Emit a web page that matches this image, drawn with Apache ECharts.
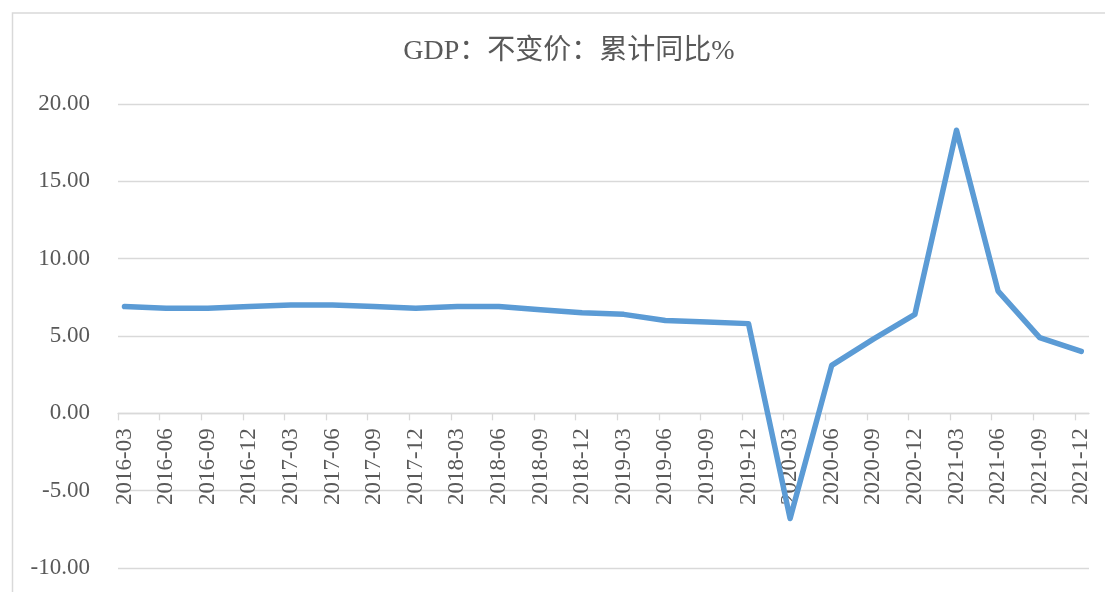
<!DOCTYPE html>
<html>
<head>
<meta charset="utf-8">
<script src="https://cdn.jsdelivr.net/npm/echarts@6/dist/echarts.min.js"></script>
<style>
html,body{margin:0;padding:0;background:#fff;}
#chart{width:1105px;height:592px;}
</style>
</head>
<body>
<div id="chart"></div>
<script>
const titleText = 'GDP：不变价：累计同比%';
const categories = ['2016-03','2016-06','2016-09','2016-12','2017-03','2017-06','2017-09','2017-12',
  '2018-03','2018-06','2018-09','2018-12','2019-03','2019-06','2019-09','2019-12',
  '2020-03','2020-06','2020-09','2020-12','2021-03','2021-06','2021-09','2021-12'];
const gdpValues = [6.9,6.8,6.8,6.9,7.0,7.0,6.9,6.8,
  6.9,6.9,6.7,6.5,6.4,6.0,5.9,5.8,
  -6.8,3.1,4.8,6.4,18.3,7.9,4.9,4.0];
const yMin = -10, yMax = 20, yStep = 5;

const idx = categories.map((c, i) => i);
const tickOffset = -0.156;
const gridTop = 104, gridBottom = 24, chartH = 592;
const plotH = chartH - gridTop - gridBottom;
const zeroOffset = -plotH * (0 - yMin) / (yMax - yMin);

const chart = echarts.init(document.getElementById('chart'), null, {renderer: 'canvas'});
chart.setOption({
  backgroundColor: '#ffffff',
  animation: false,
  graphic: [{
    type: 'rect',
    shape: {x: 12.5, y: 13, width: 1200, height: 700},
    style: {fill: 'none', stroke: '#d9d9d9', lineWidth: 1.5},
    silent: true
  }],
  title: {
    text: titleText,
    left: 564,
    textAlign: 'center',
    top: 33,
    textStyle: {
      fontFamily: "'Liberation Serif', 'Noto Sans CJK SC', serif",
      fontSize: 28,
      fontWeight: 'normal',
      color: '#595959'
    }
  },
  grid: {left: 118, right: 16, top: gridTop, bottom: gridBottom, containLabel: false, outerBoundsMode: 'none'},
  xAxis: {
    type: 'value',
    min: tickOffset,
    max: 23.185,
    offset: zeroOffset,
    axisLine: {onZero: false, lineStyle: {color: '#d9d9d9', width: 1.3}},
    axisTick: {show: true, length: 7, customValues: idx.map(i => i + tickOffset), lineStyle: {color: '#d9d9d9', width: 1.3}},
    axisLabel: {
      customValues: idx,
      formatter: v => categories[Math.round(v)] || '',
      rotate: 90,
      margin: 15,
      color: '#595959',
      fontFamily: "'Liberation Serif', serif",
      fontSize: 23
    },
    splitLine: {show: false}
  },
  yAxis: {
    type: 'value',
    min: yMin,
    max: yMax,
    interval: yStep,
    axisLine: {show: false},
    axisTick: {show: false},
    axisLabel: {
      formatter: v => v.toFixed(2),
      margin: 28,
      color: '#595959',
      fontFamily: "'Liberation Serif', serif",
      fontSize: 23
    },
    splitLine: {lineStyle: {color: '#d9d9d9', width: 1.3}}
  },
  series: [{
    type: 'line',
    data: gdpValues.map((v, i) => [i, v]),
    symbol: 'none',
    smooth: false,
    lineStyle: {color: '#5b9bd5', width: 5.5, cap: 'round', join: 'round'}
  }]
});
</script>
</body>
</html>
